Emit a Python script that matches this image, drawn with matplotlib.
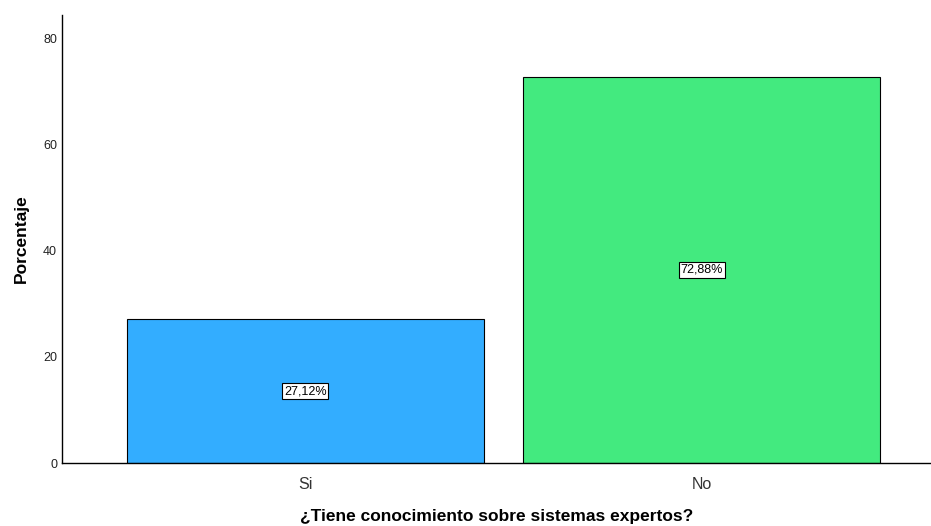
import matplotlib
matplotlib.use("Agg")
import matplotlib.pyplot as plt

# --- DATA ---
categories = ["Si", "No"]
percentages = [27.12, 72.88]
bar_labels = ["27,12%", "72,88%"]
colors = ["#33adff", "#43ea7f"]

plt.rcParams['font.family'] = ['Liberation Sans', 'DejaVu Sans']

fig = plt.figure(figsize=(9.31, 5.26), dpi=100)
ax = fig.add_axes([62 / 931, 63 / 526, 1 - 62 / 931, (463 - 15) / 526])

x = list(range(len(categories)))
ax.bar(x, percentages, width=0.9, color=colors, edgecolor="black", linewidth=0.8)

# value boxes in the middle of each bar
for xi, val, lab in zip(x, percentages, bar_labels):
    ax.text(xi, val / 2, lab, ha="center", va="center", fontsize=9,
            bbox=dict(boxstyle="square,pad=0.15", facecolor="white",
                      edgecolor="black", linewidth=0.8))

ax.set_xlim(-0.614, 1.579)
ax.set_ylim(0, 84.5)
ax.set_yticks([0, 20, 40, 60, 80])
ax.set_xticks(x)
ax.set_xticklabels(categories, fontsize=11.5, color="#333333")
ax.tick_params(axis="y", labelsize=9, length=0, pad=3.5, labelcolor="#222222")
ax.tick_params(axis="x", length=0, pad=10)

for s in ["top", "right"]:
    ax.spines[s].set_visible(False)
ax.spines["left"].set_linewidth(1.0)
ax.spines["bottom"].set_linewidth(1.0)

ax.set_ylabel("Porcentaje", fontsize=12.5, fontweight="bold", labelpad=10)
ax.set_xlabel("¿Tiene conocimiento sobre sistemas expertos?", fontsize=12.5,
              fontweight="bold", labelpad=12)

fig.savefig("out.png", dpi=100)
